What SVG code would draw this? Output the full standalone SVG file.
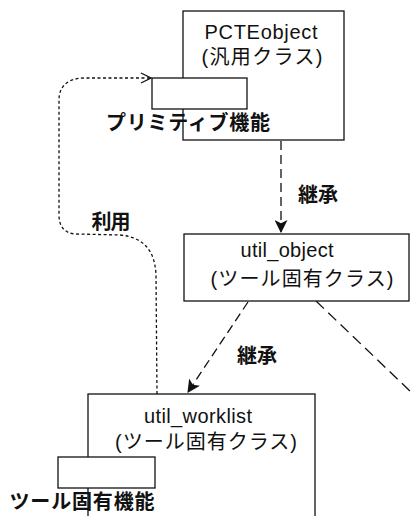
<svg xmlns="http://www.w3.org/2000/svg" width="411" height="516" viewBox="0 0 411 516">
<style>
.box{fill:#fff;stroke:#111;stroke-width:1.3}
.t{font-family:"Liberation Sans","Noto Sans CJK JP",sans-serif;font-size:20px;fill:#111;text-anchor:middle}
.b{font-family:"Noto Sans CJK JP",sans-serif;font-size:20px;font-weight:bold;fill:#111;text-anchor:middle}
.inh{fill:none;stroke:#111;stroke-width:1.3;stroke-dasharray:9,5}
.use{fill:none;stroke:#111;stroke-width:1.3;stroke-dasharray:3,2.5}
.dd{fill:none;stroke:#111;stroke-width:1.3;stroke-dasharray:11,6}
</style>
<defs>
<marker id="fa" viewBox="0 0 12 12" refX="11" refY="6" markerWidth="13" markerHeight="13" markerUnits="userSpaceOnUse" orient="auto">
<path d="M0,0 L12,6 L0,12 L3,6 Z" fill="#111"/>
</marker>
<marker id="oa" viewBox="0 0 12 12" refX="11" refY="6" markerWidth="12" markerHeight="12" markerUnits="userSpaceOnUse" orient="auto">
<path d="M1,1 L11,6 L1,11" fill="none" stroke="#111" stroke-width="1.3"/>
</marker>
</defs>
<g id="connectors">
<path class="inh" d="M281,141 L281,232" marker-end="url(#fa)"/>
<path class="inh" d="M248,302 L188,392" marker-end="url(#fa)"/>
<path class="dd" d="M316,301 L411,392"/>
<path class="use" d="M157,394 L156,275 C155,250 143,237 120,235 L75,234 C64,233 59,226 59,215 L59,100 C59,86 68,78 85,78 L151,78" marker-end="url(#oa)"/>
<text class="b" x="318" y="202" textLength="40">継承</text>
<text class="b" x="257" y="363" textLength="40">継承</text>
<text class="b" x="111" y="229" textLength="39">利用</text>
</g>
<g id="PCTEobject">
<rect class="box" x="183" y="11" width="161" height="129"/>
<text class="t" x="261" y="39" textLength="113">PCTEobject</text>
<text class="t" x="262" y="64" textLength="121">(汎用クラス)</text>
</g>
<g id="primitive">
<rect class="box" x="152" y="78" width="95" height="31"/>
<text class="b" x="188" y="130" textLength="164">プリミティブ機能</text>
</g>
<g id="util_object">
<rect class="box" x="184" y="234" width="225" height="67"/>
<text class="t" x="287" y="257" textLength="93">util_object</text>
<text class="t" x="302" y="286" textLength="183">(ツール固有クラス)</text>
</g>
<g id="util_worklist">
<rect class="box" x="88" y="394" width="227" height="130"/>
<text class="t" x="198" y="423" textLength="108">util_worklist</text>
<text class="t" x="206" y="449" textLength="182">(ツール固有クラス)</text>
</g>
<g id="tool_func">
<rect class="box" x="58" y="457" width="97" height="31"/>
<text class="b" x="82" y="509" textLength="145">ツール固有機能</text>
</g>
</svg>
